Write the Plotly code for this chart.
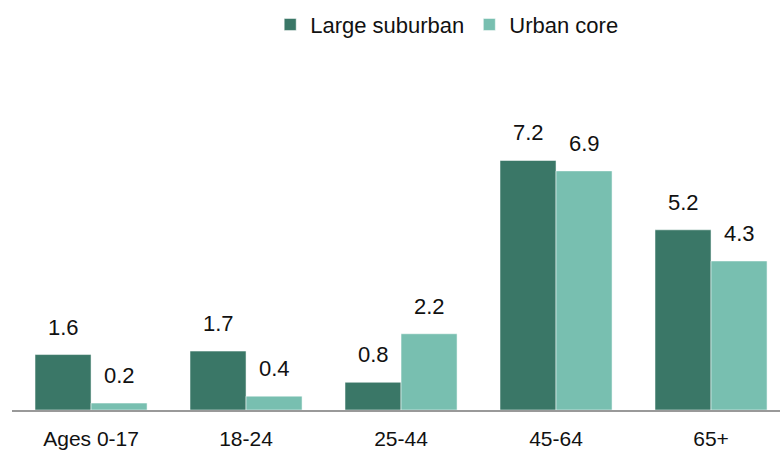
import plotly.graph_objects as go

categories = ["Ages 0-17", "18-24", "25-44", "45-64", "65+"]
large_suburban = [1.6, 1.7, 0.8, 7.2, 5.2]
urban_core = [0.2, 0.4, 2.2, 6.9, 4.3]

dark = "#3a7767"
light = "#78bfb0"
font_family = "'Liberation Sans', Arial, sans-serif"

fig = go.Figure()
fig.add_trace(go.Bar(name="Large suburban", x=categories, y=large_suburban,
                     marker=dict(color=dark, line=dict(color="rgba(255,255,255,0.5)", width=1))))
fig.add_trace(go.Bar(name="Urban core", x=categories, y=urban_core,
                     marker=dict(color=light, line=dict(color="rgba(255,255,255,0.5)", width=1))))

annotations = []
for series, shift in ((large_suburban, -28), (urban_core, 28)):
    for c, v in zip(categories, series):
        annotations.append(dict(x=c, y=v, xref="x", yref="y", text=f"{v:.1f}",
                                showarrow=False, xshift=shift, yshift=13, yanchor="bottom",
                                font=dict(size=22, color="#111", family=font_family)))

fig.update_layout(
    width=784, height=453,
    margin=dict(l=12, r=4, t=60, b=43),
    plot_bgcolor="white", paper_bgcolor="white",
    barmode="group", bargap=0.277, bargroupgap=0,
    font=dict(family=font_family, color="#111"),
    legend=dict(orientation="h", x=0.566, xanchor="center", y=1.13, yanchor="middle",
                font=dict(size=22), itemwidth=30, tracegroupgap=0),
    annotations=annotations,
    xaxis=dict(range=[-0.51, 4.445], showline=True, linecolor="#999", linewidth=2,
               tickfont=dict(size=21, color="#111"), ticks="outside", ticklen=9,
               tickcolor="white", showgrid=False),
    yaxis=dict(range=[0, 9.84], visible=False, showgrid=False, zeroline=False),
)
fig.write_html("out.html", config={"displayModeBar": False},
               post_script="document.body.style.margin='0';document.body.style.overflow='hidden';")
